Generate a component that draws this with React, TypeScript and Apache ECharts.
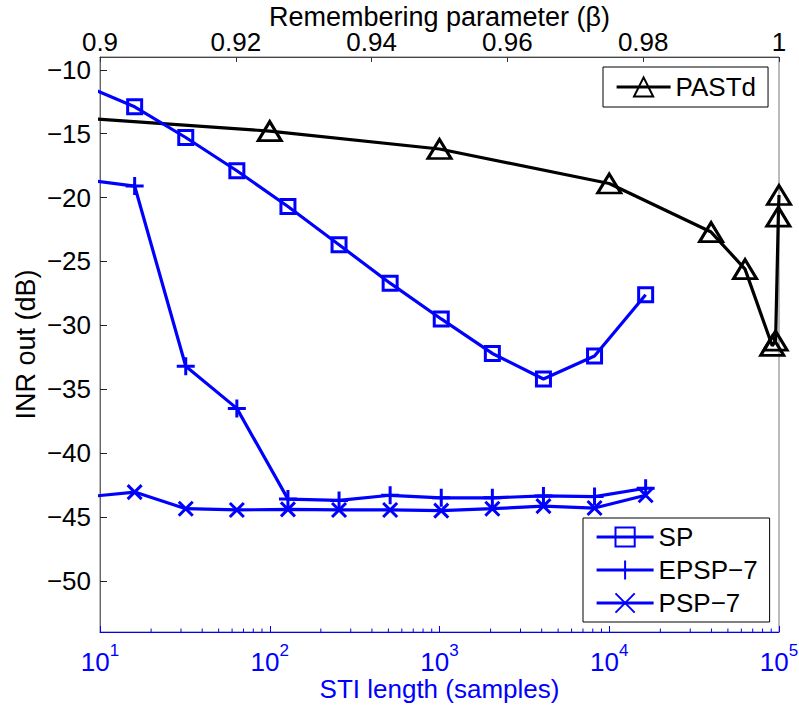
import React, { useEffect, useRef } from 'react';
import * as echarts from 'echarts';

// ---- data ----
const stiLength = [8, 16, 32, 64, 128, 256, 512, 1024, 2048, 4096, 8192, 16384];
const spValues = [-11.2, -12.9, -15.3, -17.9, -20.7, -23.7, -26.7, -29.5, -32.2, -34.2, -32.4, -27.6];
const epspValues = [-18.6, -19.1, -33.2, -36.5, -43.6, -43.7, -43.3, -43.5, -43.5, -43.35, -43.4, -42.75];
const pspValues = [-43.45, -43.05, -44.35, -44.45, -44.4, -44.45, -44.45, -44.5, -44.35, -44.15, -44.3, -43.3];

const pastdBeta = [0.85, 0.925, 0.95, 0.975, 0.99, 0.995, 0.999, 0.9995, 0.9999, 1];
const pastdValues = [-12.0, -14.8, -16.2, -18.9, -22.7, -25.6, -31.6, -31.2, -21.5, -19.8];

const seriesNames = ['SP', 'EPSP\u22127', 'PSP\u22127'];
const pastdName = 'PASTd';

const minorLogTicks = [
  20, 30, 40, 50, 60, 70, 80, 90,
  200, 300, 400, 500, 600, 700, 800, 900,
  2000, 3000, 4000, 5000, 6000, 7000, 8000, 9000,
  20000, 30000, 40000, 50000, 60000, 70000, 80000, 90000,
];

const Y_MIN = -54;
const Y_MAX = -9;

const FONT = "'Liberation Sans', Arial, Helvetica, sans-serif";
const BLUE = '#0000ff';
const LW = 3.2;

const plusPath = 'path://M5,0 L5,10 M0,5 L10,5';
const crossPath = 'path://M0,0 L10,10 M10,0 L0,10';

function pairs(xs: number[], ys: number[]) {
  return ys.map((v, i) => [xs[i], v]);
}

const legendBase = {
  orient: 'vertical',
  itemHeight: 24,
  itemGap: 7,
  borderColor: '#000',
  borderWidth: 1,
  borderRadius: 0,
  backgroundColor: '#fff',
  selectedMode: false,
  lineStyle: { width: LW },
  textStyle: { fontSize: 26, color: '#000', fontFamily: FONT },
};

export default function App() {
  const ref = useRef<HTMLDivElement>(null);

  useEffect(() => {
    const chart = echarts.init(ref.current!, null, { renderer: 'svg' });
    const option: any = {
      animation: false,
      backgroundColor: '#fff',
      textStyle: { fontFamily: FONT },
      grid: {
        left: 100,
        top: 57,
        right: 20,
        bottom: 77,
        containLabel: false,
        outerBoundsMode: 'none',
        show: true,
        borderColor: '#777',
        borderWidth: 1,
        backgroundColor: 'transparent',
      },
      legend: [
        {
          ...legendBase,
          data: [pastdName],
          left: 603,
          top: 67,
          itemWidth: 54,
          padding: [7, 12, 7, 12],
        },
        {
          ...legendBase,
          data: seriesNames,
          left: 583,
          top: 518,
          itemWidth: 57,
          padding: [6, 12, 6, 12],
        },
      ],
      xAxis: [
        {
          type: 'log',
          logBase: 10,
          min: 10,
          max: 100000,
          position: 'bottom',
          nameMoveOverlap: false,
          axisLine: { lineStyle: { color: BLUE, width: 1 } },
          axisTick: { inside: true, length: 6, lineStyle: { color: BLUE } },
          splitLine: { show: false },
          axisLabel: {
            margin: 10,
            color: BLUE,
            formatter: (v: number) => `{b|10}{s|${Math.round(Math.log10(v))}}`,
            rich: {
              b: { fontSize: 26, lineHeight: 33, verticalAlign: 'bottom', color: BLUE, fontFamily: FONT },
              s: { fontSize: 17, lineHeight: 17, verticalAlign: 'top', color: BLUE, fontFamily: FONT },
            },
          },
          name: 'STI length (samples)',
          nameLocation: 'middle',
          nameGap: 46,
          nameTextStyle: { fontSize: 26, lineHeight: 22, color: BLUE, fontFamily: FONT },
        },
        {
          type: 'value',
          min: 0.9,
          max: 1,
          interval: 0.02,
          position: 'top',
          nameMoveOverlap: false,
          axisLine: { lineStyle: { color: '#444', width: 1 } },
          axisTick: { inside: true, length: 5, lineStyle: { color: '#333' } },
          splitLine: { show: false },
          axisLabel: {
            margin: 4,
            color: '#000',
            fontSize: 26,
            lineHeight: 22,
            fontFamily: FONT,
            formatter: (v: number) => String(+v.toFixed(2)),
          },
          name: 'Remembering parameter (\u03b2)',
          nameLocation: 'middle',
          nameGap: 28,
          nameTextStyle: { fontSize: 27, lineHeight: 24, color: '#000', fontFamily: FONT },
        },
      ],
      yAxis: {
        type: 'value',
        min: Y_MIN,
        max: Y_MAX,
        splitNumber: 9,
        nameMoveOverlap: false,
        axisLine: { lineStyle: { color: '#666', width: 1 } },
        axisTick: { inside: true, length: 7, lineStyle: { color: '#222' } },
        splitLine: { show: false },
        axisLabel: {
          margin: 9,
          color: '#000',
          fontSize: 26,
          fontFamily: FONT,
          showMinLabel: false,
          showMaxLabel: false,
          formatter: (v: number) => String(v).replace('-', '\u2212'),
        },
        name: 'INR out (dB)',
        nameLocation: 'middle',
        nameGap: 61,
        nameTextStyle: { fontSize: 27, color: '#000', fontFamily: FONT },
      },
      series: [
        {
          name: pastdName,
          type: 'line',
          xAxisIndex: 1,
          data: pairs(pastdBeta, pastdValues),
          symbol: 'triangle',
          symbolSize: [23, 19],
          showAllSymbol: true,
          lineStyle: { color: '#000', width: LW },
          itemStyle: { color: 'rgba(0,0,0,0)', borderColor: '#000', borderWidth: 3 },
          z: 3,
        },
        {
          name: seriesNames[0],
          type: 'line',
          xAxisIndex: 0,
          data: pairs(stiLength, spValues),
          symbol: 'rect',
          symbolSize: 14,
          showAllSymbol: true,
          lineStyle: { color: BLUE, width: LW },
          itemStyle: { color: 'rgba(0,0,0,0)', borderColor: BLUE, borderWidth: 3 },
          z: 4,
        },
        {
          name: seriesNames[1],
          type: 'line',
          xAxisIndex: 0,
          data: pairs(stiLength, epspValues),
          symbol: plusPath,
          symbolSize: 18,
          showAllSymbol: true,
          lineStyle: { color: BLUE, width: LW },
          itemStyle: { color: 'rgba(0,0,0,0)', borderColor: BLUE, borderWidth: 3 },
          z: 4,
        },
        {
          name: seriesNames[2],
          type: 'line',
          xAxisIndex: 0,
          data: pairs(stiLength, pspValues),
          symbol: crossPath,
          symbolSize: 14,
          showAllSymbol: true,
          lineStyle: { color: BLUE, width: LW },
          itemStyle: { color: 'rgba(0,0,0,0)', borderColor: BLUE, borderWidth: 3 },
          z: 4,
        },
        {
          type: 'custom',
          xAxisIndex: 0,
          yAxisIndex: 0,
          silent: true,
          clip: false,
          z: 5,
          data: minorLogTicks.map((v) => [v, Y_MIN]),
          renderItem: (_p: any, api: any) => {
            const pt = api.coord([api.value(0), api.value(1)]);
            return {
              type: 'line',
              shape: { x1: pt[0], y1: pt[1], x2: pt[0], y2: pt[1] - 3.5 },
              style: { stroke: BLUE, lineWidth: 1 },
            };
          },
        },
      ],
    };
    chart.setOption(option);
    return () => chart.dispose();
  }, []);

  return (
    <div
      ref={ref}
      style={{ position: 'fixed', left: 0, top: 0, width: 799, height: 709, background: '#fff' }}
    />
  );
}
